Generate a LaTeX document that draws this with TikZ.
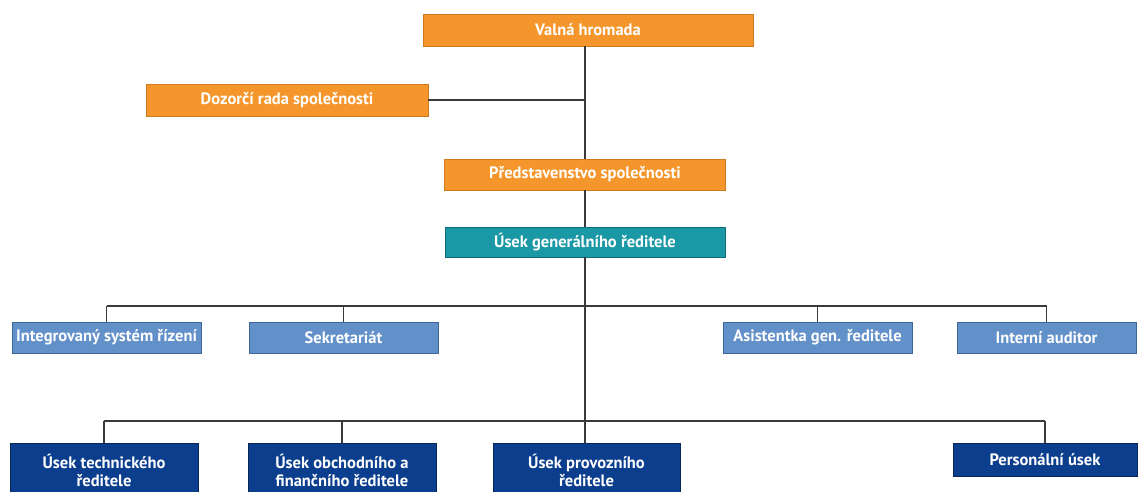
\documentclass[tikz,border=0pt]{standalone}
\usepackage{fontspec}
\setmainfont{PT Sans}
\usetikzlibrary{calc}
\definecolor{org}{HTML}{F5962C}
\definecolor{orgb}{HTML}{CF7A1C}
\definecolor{teal1}{HTML}{1B98A5}
\definecolor{tealb}{HTML}{0F6D78}
\definecolor{lblue}{HTML}{6290C9}
\definecolor{lblueb}{HTML}{3E6696}
\definecolor{dblue}{HTML}{0C3E8E}
\definecolor{dblueb}{HTML}{062757}
\definecolor{ln}{HTML}{3A3A3A}
\tikzset{
  box/.style={draw, line width=0.8pt, inner sep=0pt, text=white, font=\bfseries\fontsize{16.5}{19}\selectfont, align=center},
  orgbox/.style={box, fill=org, draw=orgb},
  tealbox/.style={box, fill=teal1, draw=tealb},
  lbox/.style={box, fill=lblue, draw=lblueb},
  dbox/.style={box, fill=dblue, draw=dblueb, font=\bfseries\fontsize{16.5}{18.5}\selectfont},
  conn/.style={draw=ln, line width=1.1pt}
}
\begin{document}
\begin{tikzpicture}[x=1pt,y=-1pt]
\useasboundingbox (0,0) rectangle (1138,491);
% top
\node[orgbox, minimum width=330pt, minimum height=32pt] (valna) at (588,30) {Valná hromada};
\node[orgbox, minimum width=282pt, minimum height=32pt] (dozorci) at (287,100) {Dozorčí rada společnosti};
\node[orgbox, minimum width=281pt, minimum height=31pt] (pred) at (585,174.5) {Představenstvo společnosti};
\node[tealbox, minimum width=280pt, minimum height=30pt] (gen) at (585,242) {Úsek generálního ředitele};
% row 2
\node[lbox, minimum width=189pt, minimum height=31pt] (integ) at (106.5,337.5) {Integrovaný systém řízení};
\node[lbox, minimum width=189pt, minimum height=31pt] (sekr) at (343.5,337.5) {Sekretariát};
\node[lbox, minimum width=189pt, minimum height=31pt] (asist) at (817.5,337.5) {Asistentka gen. ředitele};
\node[lbox, minimum width=179pt, minimum height=31pt] (intern) at (1046.5,337.5) {Interní auditor};
% row 3
\node[dbox, minimum width=188pt, minimum height=54pt, anchor=north] (tech) at (104,443) {Úsek technického\\ředitele};
\node[dbox, minimum width=188pt, minimum height=54pt, anchor=north] (obch) at (342,443) {Úsek obchodního a\\finančního ředitele};
\node[dbox, minimum width=187pt, minimum height=54pt, anchor=north] (prov) at (586.5,443) {Úsek provozního\\ředitele};
\node[dbox, minimum width=184pt, minimum height=33pt, anchor=north] (pers) at (1045,443) {Personální úsek};
% bus coordinates
\coordinate (bus2) at (585,306);
\coordinate (bus3) at (585,421);
% connectors
\draw[conn] (valna.south -| pred.north) -- (pred.north);
\draw[conn] (dozorci.east) -- (dozorci.east -| pred.north);
\draw[conn] (pred.south) -- (gen.north);
\draw[conn] (gen.south) -- (gen.south |- prov.north);
\draw[conn] (integ.north |- bus2) -- (intern.north |- bus2);
\foreach \n in {integ,sekr,asist,intern} \draw[conn] (\n.north) -- (\n.north |- bus2);
\draw[conn] (tech.north |- bus3) -- (pers.north |- bus3);
\foreach \n in {tech,obch,pers} \draw[conn] (\n.north) -- (\n.north |- bus3);
\end{tikzpicture}
\end{document}
